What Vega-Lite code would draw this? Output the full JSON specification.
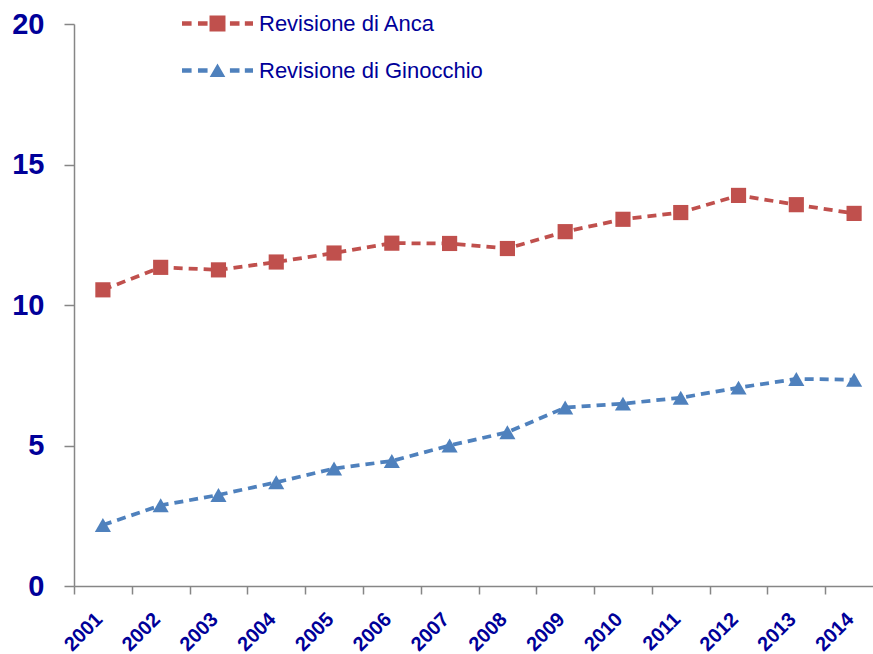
{
  "$schema": "https://vega.github.io/schema/vega-lite/v6.json",
  "autosize": {"type": "none"},
  "padding": {"left": 74, "top": 24, "right": 0, "bottom": 68},
  "width": 799,
  "height": 562,
  "background": "white",
  "config": {"view": {"stroke": null}},
  "data": {"values": [
    {"year": "2001", "series": "Revisione di Anca", "value": 10.54},
    {"year": "2002", "series": "Revisione di Anca", "value": 11.34},
    {"year": "2003", "series": "Revisione di Anca", "value": 11.25},
    {"year": "2004", "series": "Revisione di Anca", "value": 11.53},
    {"year": "2005", "series": "Revisione di Anca", "value": 11.85},
    {"year": "2006", "series": "Revisione di Anca", "value": 12.20},
    {"year": "2007", "series": "Revisione di Anca", "value": 12.19},
    {"year": "2008", "series": "Revisione di Anca", "value": 12.01},
    {"year": "2009", "series": "Revisione di Anca", "value": 12.61},
    {"year": "2010", "series": "Revisione di Anca", "value": 13.05},
    {"year": "2011", "series": "Revisione di Anca", "value": 13.29},
    {"year": "2012", "series": "Revisione di Anca", "value": 13.90},
    {"year": "2013", "series": "Revisione di Anca", "value": 13.57},
    {"year": "2014", "series": "Revisione di Anca", "value": 13.26},
    {"year": "2001", "series": "Revisione di Ginocchio", "value": 2.17},
    {"year": "2002", "series": "Revisione di Ginocchio", "value": 2.87},
    {"year": "2003", "series": "Revisione di Ginocchio", "value": 3.24},
    {"year": "2004", "series": "Revisione di Ginocchio", "value": 3.69},
    {"year": "2005", "series": "Revisione di Ginocchio", "value": 4.18},
    {"year": "2006", "series": "Revisione di Ginocchio", "value": 4.45},
    {"year": "2007", "series": "Revisione di Ginocchio", "value": 5.00},
    {"year": "2008", "series": "Revisione di Ginocchio", "value": 5.47},
    {"year": "2009", "series": "Revisione di Ginocchio", "value": 6.35},
    {"year": "2010", "series": "Revisione di Ginocchio", "value": 6.49},
    {"year": "2011", "series": "Revisione di Ginocchio", "value": 6.70},
    {"year": "2012", "series": "Revisione di Ginocchio", "value": 7.06},
    {"year": "2013", "series": "Revisione di Ginocchio", "value": 7.37},
    {"year": "2014", "series": "Revisione di Ginocchio", "value": 7.34}
  ]},
  "encoding": {
    "x": {
      "field": "year", "type": "ordinal",
      "scale": {"type": "band", "range": [0, 809], "paddingInner": 0, "paddingOuter": 0},
      "axis": {
        "title": null,
        "tickBand": "extent",
        "domainColor": "#868686", "domainWidth": 1.5,
        "tickColor": "#868686", "tickWidth": 1.5, "tickSize": 8,
        "labelAngle": -45, "labelAlign": "right", "labelBaseline": "middle",
        "labelOffset": -4, "labelPadding": 22,
        "labelFont": "Liberation Sans",
        "labelFontWeight": "bold", "labelFontSize": 20, "labelColor": "#000099"
      }
    },
    "y": {
      "field": "value", "type": "quantitative",
      "scale": {"domain": [0, 20], "nice": false, "zero": true},
      "axis": {
        "title": null, "grid": false, "values": [0, 5, 10, 15, 20],
        "domainColor": "#868686", "domainWidth": 1.5,
        "tickColor": "#868686", "tickWidth": 1.5, "tickSize": 10,
        "labelPadding": 20,
        "labelFont": "Liberation Sans",
        "labelFontWeight": "bold", "labelFontSize": 29, "labelColor": "#000099"
      }
    },
    "color": {
      "field": "series", "type": "nominal",
      "scale": {"domain": ["Revisione di Anca", "Revisione di Ginocchio"], "range": ["#C0504D", "#4F81BD"]},
      "legend": {
        "title": null, "orient": "none", "legendX": 108, "legendY": -36,
        "padding": 0, "symbolSize": 5041, "symbolStrokeWidth": 0, "labelOffset": 6,
        "rowPadding": -38,
        "labelFont": "Liberation Sans", "labelFontSize": 22, "labelColor": "#000099",
        "labelLimit": 0,
        "encode": {
          "symbols": {
            "update": {
              "shape": {"signal": "datum.value === 'Revisione di Anca' ? 'M-1,-0.06H-0.73V0.06H-1Z M-0.55,-0.06H-0.28V0.06H-0.55Z M-0.225,-0.225H0.225V0.225H-0.225Z M0.35,-0.06H0.62V0.06H0.35Z M0.77,-0.06H1V0.06H0.77Z' : 'M-1,-0.06H-0.73V0.06H-1Z M-0.55,-0.06H-0.28V0.06H-0.55Z M0,-0.2L0.22,0.18H-0.22Z M0.35,-0.06H0.62V0.06H0.35Z M0.77,-0.06H1V0.06H0.77Z'"},
              "fill": {"signal": "datum.value === 'Revisione di Anca' ? '#C0504D' : '#4F81BD'"},
              "fillOpacity": {"value": 1},
              "opacity": {"value": 1},
              "strokeWidth": {"value": 0},
              "size": {"value": 5041}
            }
          }
        }
      }
    }
  },
  "layer": [
    {
      "mark": {"type": "line", "strokeWidth": 3.75, "strokeDash": [9, 6]}
    },
    {
      "transform": [{"filter": "datum.series === 'Revisione di Anca'"}],
      "mark": {"type": "point", "shape": "square", "filled": true, "size": 230, "opacity": 1}
    },
    {
      "transform": [{"filter": "datum.series === 'Revisione di Ginocchio'"}],
      "mark": {"type": "point", "shape": "triangle-up", "filled": true, "size": 260, "opacity": 1}
    }
  ]
}
